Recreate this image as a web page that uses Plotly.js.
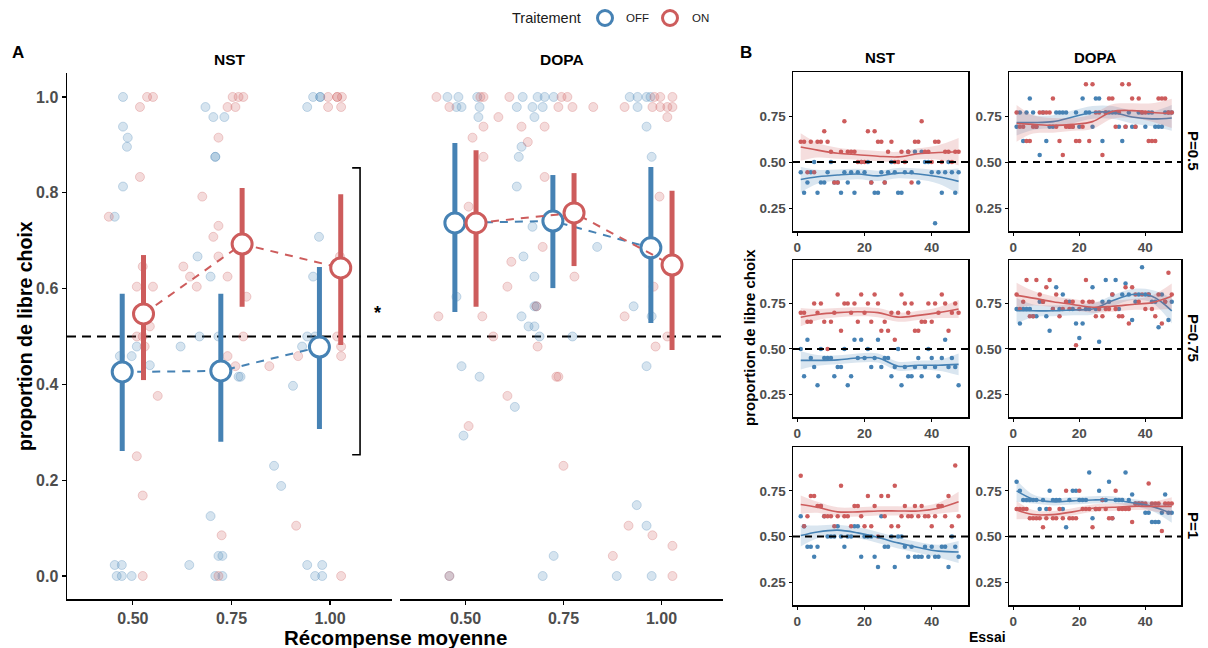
<!DOCTYPE html>
<html><head><meta charset="utf-8">
<script src="https://cdn.plot.ly/plotly-3.0.1.min.js"></script>
<style>html,body{margin:0;padding:0;background:#fff;}#chart{width:1208px;height:648px;}</style>
</head><body><div id="chart"></div><script>
// ---------- Panel A data ----------
const rewardLevels = [0.5, 0.75, 1.0];
const rewardLabels = ['0.50', '0.75', '1.00'];
const yTicksA = [0, 0.2, 0.4, 0.6, 0.8, 1.0];
const yTickLabelsA = ['0.0', '0.2', '0.4', '0.6', '0.8', '1.0'];
const treatments = ['OFF', 'ON'];

const nstOffMean = [0.426, 0.428, 0.478];
const nstOffLow  = [0.261, 0.280, 0.307];
const nstOffHigh = [0.589, 0.589, 0.645];
const nstOnMean  = [0.547, 0.693, 0.643];
const nstOnLow   = [0.409, 0.562, 0.482];
const nstOnHigh  = [0.670, 0.810, 0.797];
const dopaOffMean = [0.737, 0.741, 0.685];
const dopaOffLow  = [0.551, 0.601, 0.528];
const dopaOffHigh = [0.904, 0.837, 0.854];
const dopaOnMean  = [0.737, 0.758, 0.649];
const dopaOnLow   = [0.562, 0.647, 0.472];
const dopaOnHigh  = [0.889, 0.841, 0.804];

// individual subjects (jittered reward position, proportion)
const nstOffX = [0.475,0.475,0.487,0.485,0.475,0.454,0.510,0.467,0.497,0.543,0.454,0.472,0.459,0.472,0.497,
  0.684,0.704,0.732,0.709,0.709,0.664,0.697,0.621,0.669,0.717,0.768,0.773,0.697,0.717,0.727,0.643,0.709,0.727,
  0.942,0.957,0.975,0.975,0.972,0.957,0.942,0.962,0.929,0.906,0.858,0.876,0.942,0.980,0.962,0.980];
const nstOffY = [1.0,0.938,0.915,0.896,0.813,0.75,0.479,0.459,0.459,0.44,0.023,0.023,0,0,0,
  0.979,0.958,0.958,0.875,0.875,0.667,0.625,0.479,0.5,0.5,0.416,0.416,0.125,0.042,0.042,0.023,0,0,
  0.979,1.0,1.0,1.0,0.708,0.625,0.5,0.5,0.479,0.397,0.23,0.188,0.023,0.023,0,0];
const nstOnX = [0.536,0.551,0.518,0.518,0.439,0.525,0.510,0.551,0.543,0.510,0.525,0.530,0.563,0.510,0.525,0.525,
  0.753,0.768,0.780,0.740,0.760,0.717,0.676,0.717,0.704,0.717,0.628,0.645,0.662,0.740,0.788,0.780,0.740,0.760,0.846,0.725,0.717,
  0.995,1.018,1.018,1.030,0.995,1.028,1.025,1.018,1.028,1.028,0.919,0.914,1.028];
const nstOnY = [1.0,1.0,0.979,0.833,0.75,0.646,0.604,0.604,0.521,0.5,0.5,0.479,0.376,0.25,0.168,0,
  1.0,1.0,1.0,0.979,0.979,0.915,0.792,0.731,0.708,0.667,0.646,0.625,0.604,0.625,0.583,0.5,0.459,0.438,0.438,0.085,0,
  1.0,1.0,1.0,1.0,0.979,0.979,0.667,0.5,0.479,0.459,0.459,0.105,0];
const dopaOffX = [0.454,0.482,0.530,0.477,0.490,0.536,0.533,0.477,0.490,0.536,0.495,0.459,
  0.646,0.684,0.702,0.725,0.631,0.671,0.697,0.676,0.643,0.636,0.631,0.671,0.836,0.648,0.676,0.676,0.681,0.643,0.661,0.676,0.689,0.773,0.626,0.725,0.697,
  0.919,0.939,0.962,0.972,0.939,0.962,0.975,0.929,0.975,0.962,0.937,0.962,0.886,0.975];
const dopaOffY = [1,1,1,0.979,0.979,0.979,0.958,0.583,0.438,0.416,0.293,0,
  1,1,1,1,0.979,0.979,0.979,0.958,0.896,0.875,0.813,0.729,0.687,0.667,0.625,0.563,0.563,0.542,0.521,0.521,0.5,0.5,0.353,0.042,0,
  1,1,1,1,0.979,0.938,0.875,0.563,0.542,0.438,0.148,0.105,0,0];
const dopaOnX = [0.426,0.538,0.546,0.459,0.546,0.518,0.546,0.508,0.431,0.543,0.571,0.584,0.607,0.617,0.607,0.508,0.459,0.612,
  0.745,0.760,0.737,0.773,0.826,0.643,0.702,0.659,0.702,0.697,0.778,0.681,0.684,0.732,0.737,0.75,
  0.982,0.997,1.028,0.906,0.977,0.997,1.015,1.028,1.015,0.995,0.980,0.906,1.015,0.985,0.916,0.977,1.028,0.876,1.028];
const dopaOnY = [1,1,1,0.979,0.938,0.915,0.875,0.771,0.542,0.542,0.5,0.958,0.604,0.656,0.376,0.313,0,1,
  1,1,0.979,0.979,0.979,0.938,0.938,0.906,0.833,0.687,0.625,0.563,0.479,0.416,0.416,0.23,
  1,1,1,0.979,0.979,0.979,0.979,0.979,0.958,0.792,0.604,0.542,0.5,0.479,0.105,0.085,0.063,0.042,0];

// ---------- Panel B data ----------
const trials = [1,2,3,4,5,6,7,8,9,10,11,12,13,14,15,16,17,18,19,20,21,22,23,24,25,26,27,28,29,30,31,32,33,34,35,36,37,38,39,40,41,42,43,44,45,46,47,48];
const xTicksB = [0, 20, 40];
const yTicksB = [0.25, 0.5, 0.75];
const yTickLabelsB = ['0.25', '0.50', '0.75'];
const rowLabels = ['P=0.5', 'P=0.75', 'P=1'];
const colLabels = ['NST', 'DOPA'];

const nstP05On = [0.611,0.611,0.444,0.611,0.444,0.611,0.611,0.667,0.611,0.556,0.389,0.389,0.556,0.722,0.556,0.556,0.556,0.5,0.5,0.5,0.667,0.389,0.667,0.611,0.611,0.389,0.556,0.611,0.5,0.5,0.556,0.5,0.556,0.389,0.611,0.611,0.722,0.556,0.556,0.5,0.611,0.611,0.5,0.556,0.556,0.5,0.556,0.556];
const nstP05Off = [0.444,0.333,0.389,0.444,0.5,0.333,0.389,0.389,0.444,0.5,0.389,0.389,0.333,0.444,0.389,0.444,0.333,0.444,0.5,0.444,0.5,0.389,0.333,0.333,0.444,0.389,0.444,0.5,0.444,0.333,0.333,0.444,0.556,0.444,0.556,0.389,0.556,0.5,0.5,0.444,0.167,0.444,0.333,0.444,0.5,0.444,0.333,0.444];
const nstP075On = [0.7,0.7,0.65,0.65,0.75,0.7,0.75,0.65,0.5,0.65,0.7,0.8,0.6,0.75,0.75,0.7,0.75,0.65,0.8,0.7,0.75,0.65,0.8,0.75,0.6,0.65,0.6,0.7,0.55,0.7,0.8,0.75,0.7,0.75,0.6,0.6,0.65,0.65,0.75,0.65,0.75,0.7,0.8,0.75,0.6,0.7,0.75,0.7];
const nstP075Off = [0.5,0.35,0.55,0.45,0.4,0.3,0.5,0.45,0.45,0.45,0.35,0.4,0.4,0.5,0.3,0.35,0.55,0.45,0.55,0.45,0.5,0.4,0.45,0.55,0.4,0.45,0.45,0.35,0.4,0.5,0.3,0.4,0.35,0.35,0.4,0.45,0.35,0.4,0.5,0.45,0.4,0.35,0.45,0.55,0.4,0.45,0.4,0.3];
const nstP1On = [0.833,0.556,0.611,0.722,0.722,0.667,0.667,0.611,0.611,0.611,0.556,0.611,0.778,0.611,0.611,0.556,0.667,0.667,0.611,0.556,0.722,0.556,0.667,0.5,0.722,0.611,0.722,0.556,0.778,0.556,0.611,0.667,0.611,0.611,0.667,0.611,0.667,0.611,0.611,0.556,0.611,0.667,0.667,0.611,0.722,0.556,0.889,0.611];
const nstP1Off = [0.611,0.556,0.444,0.444,0.389,0.444,0.667,0.611,0.5,0.5,0.5,0.556,0.5,0.444,0.5,0.5,0.556,0.556,0.389,0.5,0.5,0.5,0.389,0.333,0.611,0.444,0.444,0.5,0.333,0.5,0.5,0.444,0.389,0.444,0.389,0.389,0.389,0.444,0.389,0.444,0.389,0.389,0.444,0.444,0.333,0.5,0.444,0.389];
const dopaP05Off = [0.692,0.769,0.615,0.769,0.846,0.769,0.692,0.538,0.769,0.615,0.692,0.692,0.769,0.769,0.769,0.769,0.692,0.692,0.769,0.692,0.846,0.769,0.769,0.692,0.846,0.846,0.615,0.769,0.769,0.769,0.769,0.692,0.615,0.692,0.769,0.692,0.692,0.769,0.769,0.692,0.769,0.769,0.692,0.692,0.692,0.769,0.769,0.769];
const dopaP05On = [0.769,0.692,0.692,0.615,0.615,0.692,0.692,0.769,0.769,0.769,0.769,0.846,0.692,0.615,0.538,0.692,0.692,0.692,0.615,0.615,0.692,0.923,0.615,0.923,0.769,0.769,0.538,0.769,0.846,0.846,0.692,0.769,0.923,0.692,0.923,0.846,0.692,0.846,0.769,0.769,0.615,0.615,0.615,0.846,0.846,0.846,0.769,0.769];
const dopaP075On = [0.80,0.72,0.76,0.88,0.68,0.68,0.88,0.80,0.76,0.84,0.88,0.72,0.80,0.68,0.72,0.76,0.72,0.76,0.52,0.72,0.76,0.88,0.76,0.76,0.68,0.72,0.68,0.72,0.72,0.80,0.72,0.68,0.68,0.84,0.64,0.84,0.80,0.76,0.80,0.72,0.80,0.72,0.68,0.80,0.64,0.76,0.92,0.80];
const dopaP075Off = [0.72,0.64,0.72,0.72,0.72,0.68,0.68,0.76,0.76,0.68,0.60,0.72,0.84,0.72,0.80,0.76,0.76,0.72,0.64,0.56,0.64,0.72,0.72,0.84,0.72,0.54,0.76,0.88,0.76,0.80,0.88,0.72,0.80,0.86,0.80,0.66,0.76,0.80,0.95,0.80,0.80,0.76,0.76,0.62,0.80,0.76,0.66,0.76];
const dopaP1Off = [0.80,0.75,0.70,0.70,0.70,0.70,0.70,0.65,0.70,0.65,0.75,0.70,0.70,0.70,0.65,0.55,0.70,0.75,0.75,0.70,0.70,0.70,0.85,0.60,0.65,0.75,0.70,0.70,0.80,0.60,0.70,0.70,0.70,0.85,0.70,0.73,0.68,0.68,0.68,0.63,0.63,0.58,0.58,0.58,0.63,0.73,0.63,0.63];
const dopaP1On = [0.65,0.65,0.65,0.65,0.60,0.60,0.60,0.60,0.55,0.60,0.65,0.60,0.60,0.65,0.60,0.75,0.60,0.60,0.60,0.75,0.65,0.65,0.65,0.55,0.65,0.65,0.70,0.65,0.60,0.60,0.75,0.65,0.65,0.65,0.65,0.58,0.68,0.68,0.68,0.68,0.79,0.68,0.68,0.68,0.53,0.68,0.68,0.68];

// smooth curves (read at knots) and half-width of confidence band
const smoothKnots = [1, 6, 12, 18, 24, 30, 36, 42, 48];
const nstP05OnFit  = [0.582,0.565,0.548,0.540,0.532,0.528,0.545,0.552,0.556];
const nstP05OnHw   = [0.075,0.040,0.030,0.028,0.028,0.028,0.030,0.040,0.075];
const nstP05OffFit = [0.405,0.420,0.430,0.435,0.425,0.440,0.435,0.420,0.395];
const nstP05OffHw  = [0.070,0.038,0.030,0.028,0.028,0.028,0.030,0.038,0.070];
const nstP075OnFit  = [0.675,0.690,0.700,0.705,0.700,0.675,0.685,0.700,0.720];
const nstP075OnHw   = [0.050,0.030,0.025,0.025,0.025,0.025,0.025,0.030,0.050];
const nstP075OffFit = [0.437,0.437,0.440,0.450,0.450,0.405,0.410,0.410,0.415];
const nstP075OffHw  = [0.050,0.030,0.025,0.025,0.025,0.025,0.025,0.030,0.060];
const nstP1OnFit  = [0.675,0.660,0.635,0.635,0.640,0.640,0.640,0.655,0.690];
const nstP1OnHw   = [0.050,0.030,0.025,0.025,0.025,0.025,0.025,0.030,0.055];
const nstP1OffFit = [0.505,0.525,0.535,0.520,0.495,0.465,0.440,0.420,0.415];
const nstP1OffHw  = [0.060,0.035,0.030,0.030,0.030,0.030,0.030,0.035,0.060];
const dopaP05OnFit  = [0.710,0.705,0.700,0.705,0.720,0.775,0.780,0.770,0.765];
const dopaP05OnHw   = [0.100,0.050,0.040,0.035,0.040,0.040,0.040,0.050,0.080];
const dopaP05OffFit = [0.715,0.715,0.720,0.745,0.770,0.770,0.745,0.735,0.740];
const dopaP05OffHw  = [0.070,0.040,0.035,0.035,0.035,0.035,0.035,0.040,0.070];
const dopaP075OnFit  = [0.795,0.780,0.760,0.745,0.730,0.735,0.745,0.755,0.790];
const dopaP075OnHw   = [0.070,0.040,0.030,0.030,0.030,0.030,0.030,0.040,0.070];
const dopaP075OffFit = [0.710,0.710,0.710,0.715,0.720,0.765,0.800,0.790,0.710];
const dopaP075OffHw  = [0.070,0.035,0.030,0.030,0.030,0.030,0.030,0.035,0.070];
const dopaP1OnFit  = [0.645,0.620,0.620,0.635,0.655,0.660,0.665,0.665,0.665];
const dopaP1OnHw   = [0.050,0.025,0.020,0.020,0.020,0.020,0.020,0.025,0.050];
const dopaP1OffFit = [0.750,0.705,0.690,0.695,0.700,0.700,0.685,0.665,0.625];
const dopaP1OffHw  = [0.060,0.025,0.020,0.020,0.020,0.020,0.020,0.025,0.050];

// ---------- styling ----------
const W = 1208, H = 648;
const BLUE = '#4682B4', RED = '#CD5C5C';
const BLUE_FAINT = 'rgba(70,130,180,0.22)', RED_FAINT = 'rgba(205,92,92,0.22)';
const BLUE_RIB = 'rgba(70,130,180,0.2)', RED_RIB = 'rgba(205,92,92,0.2)';
const FONT = 'Liberation Sans, Arial, sans-serif';
const TICKGREY = '#4d4d4d';
const DODGE = 0.027;
const px = v => v / W;
const py = v => 1 - v / H;

const traces = [];

// Panel A: jittered subjects
function jitter(x, y, col, line, xa) {
  traces.push({type:'scatter', mode:'markers', x:x, y:y, xaxis:xa, yaxis:'y', showlegend:false, hoverinfo:'skip',
    marker:{size:9, color:col, line:{width:1, color:line}}});
}
jitter(nstOffX, nstOffY, BLUE_FAINT, 'rgba(70,130,180,0.28)', 'x');
jitter(nstOnX, nstOnY, RED_FAINT, 'rgba(205,92,92,0.28)', 'x');
jitter(dopaOffX, dopaOffY, BLUE_FAINT, 'rgba(70,130,180,0.28)', 'x2');
jitter(dopaOnX, dopaOnY, RED_FAINT, 'rgba(205,92,92,0.28)', 'x2');

// Panel A: mean +/- interval
function meanTrace(mean, lo, hi, col, shift, xa) {
  traces.push({type:'scatter', mode:'lines+markers', xaxis:xa, yaxis:'y', showlegend:false, hoverinfo:'skip',
    x: rewardLevels.map(r => r + shift), y: mean,
    line:{color:col, width:2, dash:'8px,7px'},
    marker:{size:20, color:'white', line:{color:col, width:3}},
    error_y:{type:'data', symmetric:false, array: hi.map((h,i)=>h-mean[i]), arrayminus: mean.map((m,i)=>m-lo[i]),
      color:col, thickness:5, width:0}});
}
meanTrace(nstOffMean, nstOffLow, nstOffHigh, BLUE, -DODGE, 'x');
meanTrace(nstOnMean, nstOnLow, nstOnHigh, RED, DODGE, 'x');
meanTrace(dopaOffMean, dopaOffLow, dopaOffHigh, BLUE, -DODGE, 'x2');
meanTrace(dopaOnMean, dopaOnLow, dopaOnHigh, RED, DODGE, 'x2');

// Panel B
const bPanels = [
  {off:nstP05Off, on:nstP05On, offFit:nstP05OffFit, offHw:nstP05OffHw, onFit:nstP05OnFit, onHw:nstP05OnHw},
  {off:dopaP05Off, on:dopaP05On, offFit:dopaP05OffFit, offHw:dopaP05OffHw, onFit:dopaP05OnFit, onHw:dopaP05OnHw},
  {off:nstP075Off, on:nstP075On, offFit:nstP075OffFit, offHw:nstP075OffHw, onFit:nstP075OnFit, onHw:nstP075OnHw},
  {off:dopaP075Off, on:dopaP075On, offFit:dopaP075OffFit, offHw:dopaP075OffHw, onFit:dopaP075OnFit, onHw:dopaP075OnHw},
  {off:nstP1Off, on:nstP1On, offFit:nstP1OffFit, offHw:nstP1OffHw, onFit:nstP1OnFit, onHw:nstP1OnHw},
  {off:dopaP1Off, on:dopaP1On, offFit:dopaP1OffFit, offHw:dopaP1OffHw, onFit:dopaP1OnFit, onHw:dopaP1OnHw},
];
const colDom = [[793, 968], [1009, 1181]];
const rowDom = [[72, 231], [260, 417], [447, 605]];

const tickA = {size:16, color:TICKGREY, weight:'bold', family:FONT};
const layout = {
  width: W, height: H, margin:{l:0, r:0, t:0, b:0}, paper_bgcolor:'white', plot_bgcolor:'rgba(0,0,0,0)',
  font:{family:FONT, color:'black'},
  showlegend:false,
  xaxis:{domain:[px(67), px(392)], range:[0.333, 1.157], anchor:'y', tickvals:rewardLevels, ticktext:rewardLabels,
    showline:true, linecolor:'black', linewidth:1.5, ticks:'outside', ticklen:4, tickcolor:'black', tickwidth:1.2,
    tickfont:tickA, showgrid:false, zeroline:false},
  xaxis2:{domain:[px(400), px(723)], range:[0.333, 1.157], anchor:'y', tickvals:rewardLevels, ticktext:rewardLabels,
    showline:true, linecolor:'black', linewidth:1.5, ticks:'outside', ticklen:4, tickcolor:'black', tickwidth:1.2,
    tickfont:tickA, showgrid:false, zeroline:false},
  yaxis:{domain:[py(599), py(73)], range:[-0.048, 1.05], anchor:'x', tickvals:yTicksA, ticktext:yTickLabelsA,
    showline:true, linecolor:'black', linewidth:1.5, ticks:'outside', ticklen:4, tickcolor:'black', tickwidth:1.2,
    tickfont:tickA, showgrid:false, zeroline:false},
  shapes:[], annotations:[]
};

bPanels.forEach((p, i) => {
  const r = Math.floor(i / 2), c = i % 2, n = 3 + i;
  const xa = 'x' + n, ya = 'y' + n;
  layout['xaxis' + n] = {domain:[px(colDom[c][0]), px(colDom[c][1])], range:[-1.3, 50.8], anchor:ya,
    tickvals:xTicksB, showline:true, mirror:true, linecolor:'black', linewidth:1.5, ticks:'outside', ticklen:3,
    tickcolor:'black', tickfont:{size:13.5, color:TICKGREY, weight:'bold', family:FONT}, showgrid:false, zeroline:false};
  layout['yaxis' + n] = {domain:[py(rowDom[r][1]), py(rowDom[r][0])], range:[0.125, 0.99], anchor:xa,
    tickvals:yTicksB, ticktext:yTickLabelsB, showline:true, mirror:true, linecolor:'black', linewidth:1.5,
    ticks:'outside', ticklen:3, tickcolor:'black', tickfont:{size:13.5, color:TICKGREY, weight:'bold', family:FONT},
    showgrid:false, zeroline:false};
  layout.shapes.push({type:'line', xref:xa + ' domain', yref:ya, x0:0, x1:1, y0:0.5, y1:0.5,
    line:{color:'black', width:2, dash:'7px,5px'}, layer:'above'});
  const groups = [[p.off, p.offFit, p.offHw, BLUE, BLUE_RIB], [p.on, p.onFit, p.onHw, RED, RED_RIB]];
  groups.forEach(g => {
    traces.push({type:'scatter', mode:'markers', x:trials, y:g[0], xaxis:xa, yaxis:ya, showlegend:false, hoverinfo:'skip',
      marker:{size:4.5, color:g[3]}});
  });
  groups.forEach(g => {
    traces.push({type:'scatter', mode:'lines', x:smoothKnots, y:g[1].map((v,k)=>v-g[2][k]), xaxis:xa, yaxis:ya,
      showlegend:false, hoverinfo:'skip', line:{width:0, shape:'spline', smoothing:1, color:g[4]}});
    traces.push({type:'scatter', mode:'lines', x:smoothKnots, y:g[1].map((v,k)=>v+g[2][k]), xaxis:xa, yaxis:ya,
      showlegend:false, hoverinfo:'skip', fill:'tonexty', fillcolor:g[4], line:{width:0, shape:'spline', smoothing:1, color:g[4]}});
    traces.push({type:'scatter', mode:'lines', x:smoothKnots, y:g[1], xaxis:xa, yaxis:ya,
      showlegend:false, hoverinfo:'skip', line:{width:1.6, shape:'spline', smoothing:1, color:g[3]}});
  });
});

// Panel A reference line and significance bracket
layout.shapes.push({type:'line', xref:'paper', yref:'y', x0:px(67), x1:px(723), y0:0.5, y1:0.5,
  line:{color:'black', width:2, dash:'9px,6px'}, layer:'below'});
layout.shapes.push({type:'path', xref:'x', yref:'y', path:'M 1.056 0.852 L 1.076 0.852 L 1.076 0.253 L 1.056 0.253',
  line:{color:'black', width:1.6}});

function ann(text, x, y, size, opts) {
  layout.annotations.push(Object.assign({text:text, xref:'paper', yref:'paper', x:px(x), y:py(y),
    xanchor:'center', yanchor:'middle', showarrow:false, font:{size:size, family:FONT, color:'black', weight:'bold'}}, opts || {}));
}
ann('A', 18, 52, 17);
ann('B', 746, 52, 17);
ann('NST', 230, 60, 15.5);
ann('DOPA', 562, 60, 15.5);
ann(colLabels[0], 880, 58, 15);
ann(colLabels[1], 1095, 58, 15);
ann(rowLabels[0], 1194, 151, 15, {textangle:90});
ann(rowLabels[1], 1194, 338, 15, {textangle:90});
ann(rowLabels[2], 1194, 525, 15, {textangle:90});
ann('Récompense moyenne', 395, 637, 20.5);
ann('proportion de libre choix', 25, 336, 19.5, {textangle:-90});
ann('proportion de libre choix', 749, 338, 15, {textangle:-90});
ann('Essai', 987, 637, 14);
layout.annotations.push({text:'*', xref:'x', yref:'y', x:1.12, y:0.55, showarrow:false,
  font:{size:18, family:FONT, color:'black', weight:'bold'}});

// legend (Traitement: OFF / ON)
const legendFont = {size:14.5, family:FONT, color:'#1a1a1a'};
ann('Traitement', 510, 18, 14.5, {xanchor:'left', font:legendFont});
const legendItems = [[treatments[0], BLUE, 605, 624], [treatments[1], RED, 670, 690]];
legendItems.forEach(it => {
  layout.shapes.push({type:'circle', xref:'paper', yref:'paper', x0:px(it[2]-7.5), x1:px(it[2]+7.5),
    y0:py(18+7.5), y1:py(18-7.5), line:{color:it[1], width:3}, fillcolor:'white'});
  ann(it[0], it[3], 18, 11.5, {xanchor:'left', font:{size:11.5, family:FONT, color:'#1a1a1a'}});
});

Plotly.newPlot('chart', traces, layout, {staticPlot:true, displayModeBar:false});
</script></body></html>
